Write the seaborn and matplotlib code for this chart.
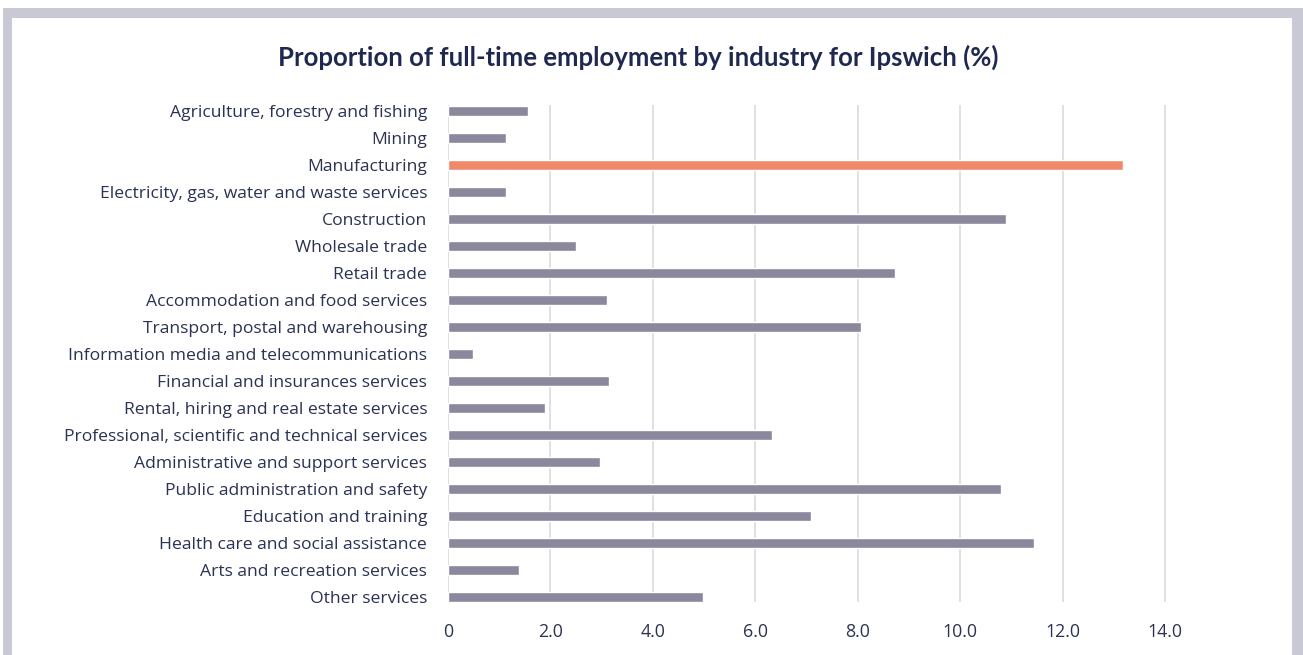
import matplotlib
matplotlib.use("Agg")
import matplotlib.pyplot as plt
import seaborn as sns
import pandas as pd
from matplotlib.patches import Rectangle

categories = [
    "Agriculture, forestry and fishing",
    "Mining",
    "Manufacturing",
    "Electricity, gas, water and waste services",
    "Construction",
    "Wholesale trade",
    "Retail trade",
    "Accommodation and food services",
    "Transport, postal and warehousing",
    "Information media and telecommunications",
    "Financial and insurances services",
    "Rental, hiring and real estate services",
    "Professional, scientific and technical services",
    "Administrative and support services",
    "Public administration and safety",
    "Education and training",
    "Health care and social assistance",
    "Arts and recreation services",
    "Other services",
]
values = [1.56, 1.13, 13.18, 1.13, 10.9, 2.5, 8.73, 3.11, 8.07, 0.49,
          3.15, 1.89, 6.33, 2.97, 10.8, 7.09, 11.44, 1.39, 4.98]
highlight = "Manufacturing"
xticks = [0, 2, 4, 6, 8, 10, 12, 14]
xticklabels = ["0", "2.0", "4.0", "6.0", "8.0", "10.0", "12.0", "14.0"]
title = "Proportion of full-time employment by industry for Ipswich (%)"

df = pd.DataFrame({"industry": categories, "value": values})
df["group"] = ["hl" if c == highlight else "base" for c in categories]

sns.set_theme(style="white")
plt.rcParams["font.family"] = ["Open Sans", "DejaVu Sans"]

W, H = 1303, 655
fig = plt.figure(figsize=(W / 100, H / 100), dpi=100)
fig.patch.set_facecolor("white")
fig.patches.append(Rectangle((3 / W, 0), 1 - 3 / W, 1 - 8 / H, transform=fig.transFigure,
                             facecolor="#c9c8d5", edgecolor="none", zorder=-2))
fig.patches.append(Rectangle((12 / W, 0), (1292 - 12) / W, 1 - 18 / H, transform=fig.transFigure,
                             facecolor="white", edgecolor="none", zorder=-1))

left, right = 448, 1166.5
top, bottom = 105, 602
ax = fig.add_axes([left / W, 1 - bottom / H, (right - left) / W, (bottom - top) / H])
ax.set_facecolor("none")

sns.barplot(data=df, x="value", y="industry", hue="group", order=categories,
            palette={"base": "#8b879c", "hl": "#f0896a"}, dodge=False, width=0.37,
            legend=False, ax=ax, saturation=1)

ax.set_xlim(0, 14.03)
ax.set_ylim(18.19, -0.22)
ax.set_xticks(xticks)
ax.set_xticklabels(xticklabels)
for x in xticks:
    ax.axvline(x, color="#dddce4", lw=1.3, zorder=0)
for s in ax.spines.values():
    s.set_visible(False)
ax.set_xlabel("")
ax.set_ylabel("")
ax.tick_params(axis="both", length=0)
ax.tick_params(axis="x", pad=15, labelsize=12.8, labelcolor="#2b3252")
ax.tick_params(axis="y", pad=15, labelsize=12.6, labelcolor="#2b3252")

fig.text(638 / W, 1 - 57 / H, title, ha="center", va="center", fontsize=18.5,
         fontweight="bold", color="#1f2950", family=["Lato", "DejaVu Sans"])

fig.savefig("out.png", dpi=100)
